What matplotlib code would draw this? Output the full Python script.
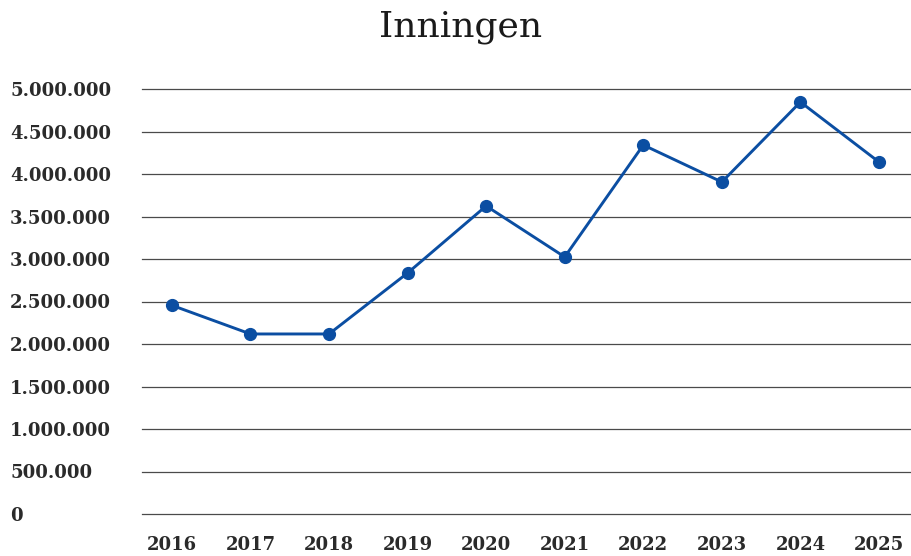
import matplotlib
matplotlib.use("Agg")
import matplotlib.pyplot as plt
from matplotlib.ticker import FuncFormatter

years = ["2016", "2017", "2018", "2019", "2020", "2021", "2022", "2023", "2024", "2025"]
values = [2455000, 2118000, 2118000, 2835000, 3624000, 3024000, 4341000, 3906000, 4847000, 4141000]
yticks = [0, 500000, 1000000, 1500000, 2000000, 2500000, 3000000, 3500000, 4000000, 4500000, 5000000]

fig = plt.figure(figsize=(9.12, 5.56), dpi=100)
ax = fig.add_axes([142/912, 42/556, 770/912, 425/556])

x = list(range(len(years)))
ax.plot(x, values, color="#0b4ea2", lw=2.1, marker="o", markersize=8.5, clip_on=False, zorder=3)

ax.set_xlim(-0.38, 9.42)
ax.set_ylim(0, 5000000)
ax.set_yticks(yticks)
ax.yaxis.set_major_formatter(FuncFormatter(lambda v, p: f"{int(v):,}".replace(",", ".")))
ax.set_xticks(x)
ax.set_xticklabels(years)

ax.grid(axis="y", color="#4a4a4a", lw=0.9)
ax.set_axisbelow(True)
for gl in ax.get_ygridlines():
    gl.set_clip_on(False)
for s in ax.spines.values():
    s.set_visible(False)

ax.tick_params(axis="y", length=0, pad=95, labelsize=13, labelcolor="#2a2a2a")
ax.tick_params(axis="x", length=0, pad=16, labelsize=13, labelcolor="#2a2a2a")
for lab in ax.get_yticklabels():
    lab.set_horizontalalignment("left")
    lab.set_fontfamily("DejaVu Serif")
    lab.set_fontweight("bold")
for lab in ax.get_xticklabels():
    lab.set_fontfamily("DejaVu Serif")
    lab.set_fontweight("bold")

fig.text(0.505, 0.952, "Inningen", ha="center", va="center", fontsize=26,
         family="DejaVu Serif", color="#1a1a1a")

fig.savefig("out.png", dpi=100)
